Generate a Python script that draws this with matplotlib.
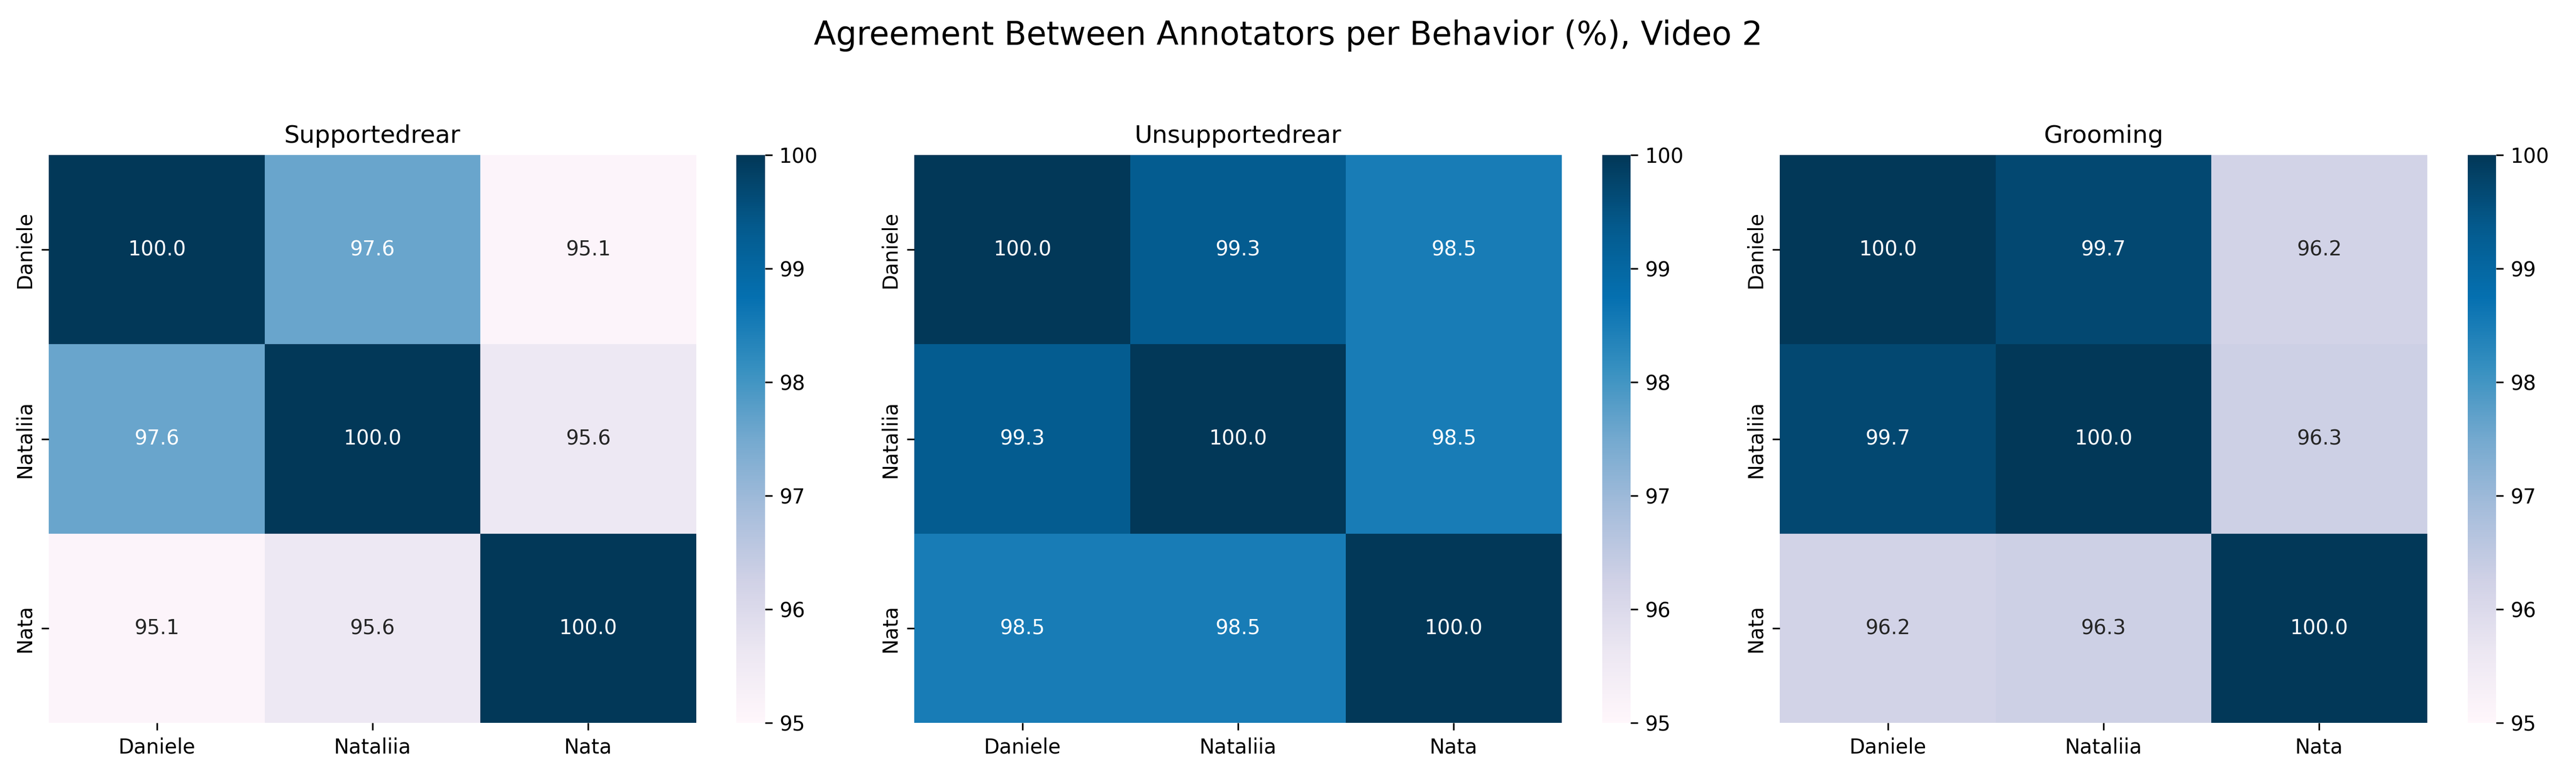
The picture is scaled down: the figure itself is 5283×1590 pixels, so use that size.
import numpy as np
import matplotlib
matplotlib.use("Agg")
import matplotlib.pyplot as plt
import seaborn as sns

annotators = ["Daniele", "Nataliia", "Nata"]
behaviors = ["Supportedrear", "Unsupportedrear", "Grooming"]

supported = [[100.0, 97.6, 95.1],
             [97.6, 100.0, 95.6],
             [95.1, 95.6, 100.0]]
unsupported = [[100.0, 99.3, 98.5],
               [99.3, 100.0, 98.5],
               [98.5, 98.5, 100.0]]
grooming = [[100.0, 99.7, 96.2],
            [99.7, 100.0, 96.3],
            [96.2, 96.3, 100.0]]

matrices = [supported, unsupported, grooming]

fig, axes = plt.subplots(1, 3, figsize=(17.61, 5.3))
for ax, name, mat in zip(axes, behaviors, matrices):
    sns.heatmap(np.array(mat), annot=True, fmt=".1f", cmap="PuBu", vmin=95, vmax=100,
                xticklabels=annotators, yticklabels=annotators, ax=ax)
    ax.set_title(name, fontsize=12)

fig.suptitle("Agreement Between Annotators per Behavior (%), Video 2", fontsize=16, y=0.975)
plt.subplots_adjust(left=0.019, right=1.005, bottom=0.067, top=0.8, wspace=0.07)
plt.savefig("out.png", dpi=300)
